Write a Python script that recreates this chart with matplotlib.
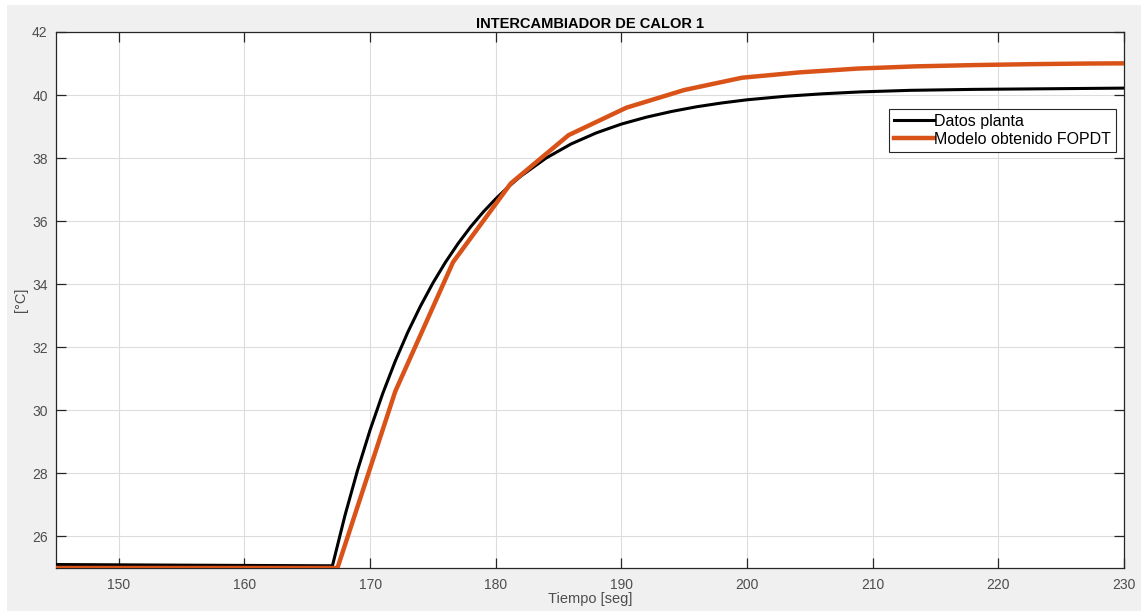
import matplotlib
matplotlib.use("Agg")
import matplotlib.pyplot as plt
from matplotlib.patches import Rectangle

# Data
t_planta = [145, 155, 167.0, 168, 169, 170, 171, 172, 173, 174, 175, 176, 177, 178,
            179, 180, 181, 182, 184, 186, 188, 190, 192, 194, 196, 198, 200, 203, 206,
            209, 213, 218, 224, 230]
y_planta = [25.11, 25.09, 25.07, 26.67, 28.1, 29.38, 30.53, 31.56, 32.48, 33.3, 34.04,
            34.7, 35.29, 35.82, 36.29, 36.71, 37.09, 37.43, 38.0, 38.45, 38.8, 39.08,
            39.3, 39.48, 39.63, 39.75, 39.85, 39.96, 40.04, 40.1, 40.15, 40.18, 40.2, 40.22]

t_modelo = [145, 167.4, 172.0, 176.6, 181.2, 185.8, 190.4, 195.0, 199.6, 204.2,
            208.8, 213.4, 218.0, 222.6, 227.2, 231.8]
y_modelo = [25.0, 25.0, 30.6, 34.7, 37.2, 38.73, 39.6, 40.16, 40.55, 40.72,
            40.84, 40.91, 40.95, 40.98, 41.0, 41.01]

x_ticks = [150, 160, 170, 180, 190, 200, 210, 220, 230]
y_ticks = [26, 28, 30, 32, 34, 36, 38, 40, 42]

plt.rcParams['font.family'] = ['Liberation Sans', 'DejaVu Sans']

fig = plt.figure(figsize=(11.41, 6.11), dpi=100, facecolor='white')
fig.patches.append(Rectangle((7 / 1141, 0), 1, 1 - 5 / 611, transform=fig.transFigure,
                             facecolor='#f0f0f0', edgecolor='none', zorder=-10))
ax = fig.add_axes([56 / 1141, 43 / 611, 1068 / 1141, 536 / 611])
ax.set_facecolor('white')

ax.plot(t_planta, y_planta, color='black', lw=2.2, label='Datos planta', zorder=3)
ax.plot(t_modelo, y_modelo, color='#D95319', lw=3.2, label='Modelo obtenido FOPDT', zorder=4)

ax.set_xlim(145, 230)
ax.set_ylim(25, 42)
ax.set_xticks(x_ticks)
ax.set_yticks(y_ticks)
ax.grid(True, color='#dcdcdc', lw=0.8)
ax.set_axisbelow(True)
ax.tick_params(direction='in', length=7.5, width=0.9, top=True, right=True,
               labelsize=10, labelcolor='#4d4d4d', color='#262626')
ax.tick_params(axis='x', pad=7)
ax.tick_params(axis='y', pad=6)
for s in ax.spines.values():
    s.set_color('#262626')
    s.set_linewidth(0.9)

ax.set_title('INTERCAMBIADOR DE CALOR 1', fontsize=10.5, fontweight='bold', pad=3)
ax.set_xlabel('Tiempo [seg]', fontsize=10.5, color='#4d4d4d', labelpad=0)
ax.set_ylabel('[°C]', fontsize=10.5, color='#4d4d4d', labelpad=3)

leg = ax.legend(loc='upper right', bbox_to_anchor=(0.9925, 0.8563), fontsize=11.5,
                frameon=True, fancybox=False, framealpha=1, edgecolor='#262626',
                handlelength=2.5, handletextpad=0.05, borderpad=0.3, labelspacing=0.2,
                borderaxespad=0)
leg.get_frame().set_linewidth(0.8)

fig.savefig('out.png', dpi=100, facecolor=fig.get_facecolor())
